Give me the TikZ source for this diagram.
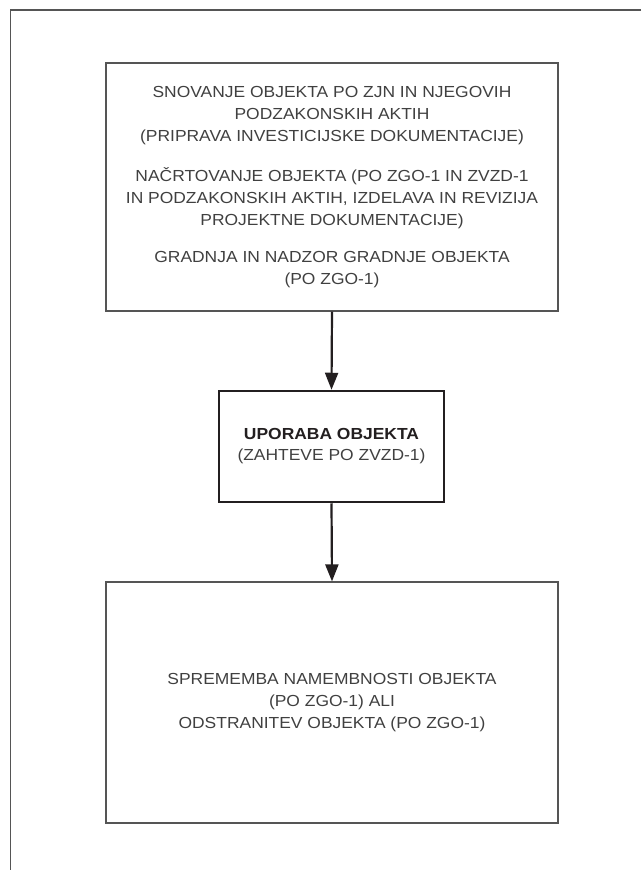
\documentclass[tikz,border=0pt]{standalone}
\usepackage{fontspec}
\setmainfont{Liberation Sans}[FakeStretch=1.09]
\usetikzlibrary{arrows.meta}
\definecolor{txtgray}{HTML}{404040}
\definecolor{linegray}{HTML}{555555}
\definecolor{darkline}{HTML}{231F20}
\begin{document}
\begin{tikzpicture}[x=1pt,y=-1pt,
  box/.style={draw=linegray, line width=1.2pt, rectangle, align=center,
    text=txtgray, inner sep=0pt, font=\fontsize{16}{22}\selectfont},
  keybox/.style={box, draw=darkline, line width=2.5pt, font=\fontsize{16}{21}\selectfont},
  arr/.style={draw=darkline, line width=2.2pt, -{Triangle[length=17pt,width=13pt]}},
  frameline/.style={draw=linegray, line width=1.2pt}
]
\useasboundingbox (0,0) rectangle (641,870);
\coordinate (ftr) at (641,10);
\coordinate (ftl) at (10.5,10);
\coordinate (fbl) at (10.5,870);
\draw[frameline] (ftr) -- (ftl) -- (fbl);

\node[box, minimum width=452pt, minimum height=248pt] (b1) at (332,187)
  {SNOVANJE OBJEKTA PO ZJN IN NJEGOVIH\\
   PODZAKONSKIH AKTIH\\
   (PRIPRAVA INVESTICIJSKE DOKUMENTACIJE)\\[18pt]
   NAČRTOVANJE OBJEKTA (PO ZGO-1 IN ZVZD-1\\
   IN PODZAKONSKIH AKTIH, IZDELAVA IN REVIZIJA\\
   PROJEKTNE DOKUMENTACIJE)\\[15pt]
   GRADNJA IN NADZOR GRADNJE OBJEKTA\\
   (PO ZGO-1)};

\node[keybox, minimum width=225pt, minimum height=111pt] (b2) at (331.5,446.5)
  {{\color{darkline}\bfseries UPORABA OBJEKTA}\\
   (ZAHTEVE PO ZVZD-1)};

\node[box, minimum width=452pt, minimum height=241pt] (b3) at (332,702.5)
  {SPREMEMBA NAMEMBNOSTI OBJEKTA\\
   (PO ZGO-1) ALI\\
   ODSTRANITEV OBJEKTA (PO ZGO-1)};

\draw[arr] (b1.south) -- (b2.north);
\draw[arr] (b2.south) -- (b3.north);
\end{tikzpicture}
\end{document}
